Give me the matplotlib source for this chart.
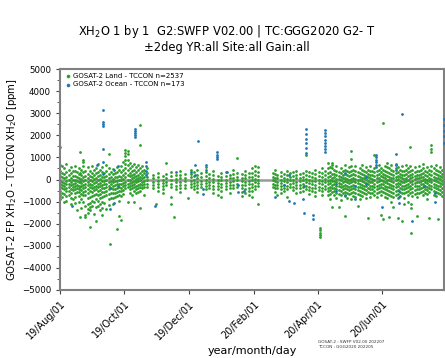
import numpy as np
import matplotlib
matplotlib.use('Agg')
import matplotlib.pyplot as plt
import matplotlib.dates as mdates
from matplotlib.ticker import MultipleLocator

# ---- data (days since 2019-08-01, ppm) ----
start = np.datetime64('2019-08-01')

land_day = [0, 2, 4, 6, 8, 10, 12, 14, 16, 18, 19, 20, 22, 24, 26, 28, 30, 32, 34, 36,
            38, 40, 42, 44, 46, 47, 48, 50, 52, 54, 56, 58, 60, 62, 64,
            66, 68, 70, 72, 74, 76, 78, 80, 82,
            88, 91, 93, 98, 100, 105, 108, 110, 114, 118, 121, 124, 127,
            130, 134, 138, 141, 145, 150, 153, 157, 161, 164, 168, 172, 175, 179, 182, 185, 188,
            202, 204, 206, 209, 212, 215, 218, 221, 224, 227, 230, 233, 236, 239, 242, 245, 246,
            248, 251, 254,
            256, 258, 260, 262, 264, 266, 268, 270, 272, 274, 276, 278, 280, 282, 284, 286, 288,
            290, 292, 294, 296, 298, 300, 302, 304, 306, 308,
            310, 312, 314, 316, 318, 320, 322, 324, 326, 328, 330, 332, 333, 334, 336, 338, 340,
            342, 344, 346, 348, 350, 352, 354, 356, 358, 360, 362]

land_val = [
    [1470, 650, 400, 150, -50, -200, -350, -500, -700, -900],
    [600, 300, 100, -100, -250, -400, -600, -800],
    [500, 250, 50, -150, -300, -450, -650, -1000],
    [700, 350, 120, -80, -220, -380, -520, -750, -950],
    [450, 200, 0, -180, -330, -500, -700],
    [550, 300, 80, -120, -260, -420, -600, -820, -1100],
    [400, 150, -30, -200, -350, -480, -900],
    [620, 380, 180, -20, -150, -300, -450, -620, -800, -1050],
    [350, 100, -60, -230, -400, -560, -1400],
    [500, 260, 60, -100, -280, -430, -580, -760, -1000],
    [1230, 300, -50, -350, -1710],
    [450, 220, 30, -140, -300, -470, -650, -900, -1300],
    [880, 790, 600, 320, 120, -60, -240, -380, -550, -720, -1000],
    [400, 180, -20, -190, -340, -500, -680, -1200, -1600, -1710],
    [550, 250, 70, -90, -260, -420, -600, -850, -1100, -1350, -1500],
    [380, 160, -40, -210, -360, -540, -780, -1050, -1230, -1400, -2160],
    [600, 300, 100, -80, -240, -400, -580, -760, -980, -1200],
    [450, 200, 10, -160, -320, -480, -700, -1000, -1550],
    [520, 280, 90, -100, -270, -450, -650, -900, -1250, -1860],
    [700, 350, 150, -30, -200, -350, -520, -700, -950, -1200],
    [420, 200, 20, -150, -300, -460, -640, -850, -1100, -1400],
    [560, 330, 100, -70, -230, -390, -560, -780, -1000, -1300, -1600],
    [300, 120, -60, -220, -380, -550, -760, -1050],
    [650, 400, 150, -40, -200, -360, -530, -720, -1330],
    [1150, 500, 250, 60, -110, -280, -450, -650, -900, -1150],
    [-2930],
    [350, 130, -50, -220, -400, -600, -850],
    [480, 240, 40, -130, -290, -450, -630, -830, -1100],
    [300, 100, -80, -250, -420, -600, -800],
    [580, 320, 120, -60, -220, -380, -550, -750, -2250],
    [420, 180, -10, -180, -340, -500, -700, -950, -1650],
    [600, 350, 130, -40, -210, -370, -540, -730, -1850],
    [800, 450, 200, 20, -150, -310, -480, -660],
    [1350, 1200, 1050, 900, 700, 500, 300, 100, -100, -250, -390],
    [1300, 1150, 900, 650, 450, 200, 0, -180, -350, -1000],
    [750, 500, 300, 150, 0, -150, -300, -450, -600],
    [600, 400, 200, 50, -100, -250, -400, -700],
    [700, 450, 250, 100, -50, -200, -350, -500, -1000],
    [550, 350, 180, 30, -120, -270, -420, -600],
    [650, 420, 220, 70, -80, -230, -380, -550],
    [2470, 1560, 500, 300, 120, -40, -190, -340, -500, -1300],
    [600, 380, 200, 50, -100, -250, -400],
    [450, 280, 100, -50, -200, -350, -700],
    [500, 300, 120, -40, -180, -320],
    [200, 50, -100, -250, -400],
    [-1100],
    [300, 100, -50, -200, -350, -500],
    [150, 0, -150, -300, -450, -600],
    [745, 250, 50, -100, -250],
    [350, 150, 0, -180, -350, -770, -1100],
    [-1700],
    [200, 30, -120, -280, -450],
    [400, 200, 50, -100, -250, -400, -550],
    [250, 80, -80, -230, -380],
    [-850],
    [450, 250, 100, -50, -200, -350],
    [350, 150, 0, -150, -300, -450],
    [430, 200, 50, -100, -250, -400, -550],
    [300, 100, -50, -200, -350],
    [550, 350, 150, 0, -150, -300, -450],
    [250, 80, -100, -250, -400],
    [400, 200, 40, -120, -280, -450, -600],
    [150, 0, -150, -300, -450, -700],
    [300, 120, -40, -200, -360, -520, -800],
    [350, 150, 0, -150, -300, -450],
    [200, 50, -100, -250, -400, -600],
    [450, 250, 80, -80, -240, -400],
    [990, 300, 120, -40, -200, -360],
    [250, 80, -80, -240, -400, -550, -750],
    [400, 200, 50, -100, -260, -420, -600],
    [300, 120, -50, -210, -370, -530, -700],
    [500, 300, 130, -30, -190, -350, -500, -800],
    [600, 400, 200, 40, -120, -280, -440],
    [550, 350, 150, 0, -150, -300, -1120],
    [300, 120, -40, -200, -360],
    [450, 250, 80, -80, -240, -400, -550],
    [200, 50, -100, -250, -400, -700],
    [350, 150, 0, -150, -300, -450, -600],
    [250, 80, -80, -230, -380, -520],
    [400, 200, 40, -120, -280, -440, -780],
    [300, 120, -40, -200, -350],
    [350, 160, 0, -160, -320, -480],
    [400, 200, 50, -100, -250, -400, -600],
    [250, 80, -80, -240, -400, -550],
    [300, 130, -30, -190, -350, -500],
    [1110, 400, 200, 40, -120, -280, -450],
    [350, 150, -10, -170, -330, -490, -650],
    [300, 120, -50, -210, -370, -530],
    [450, 250, 80, -80, -240, -400, -560, -750],
    [350, 170, 0, -160, -320, -480],
    [-2210, -2300, -2400, -2500, -2590],
    [500, 300, 120, -50, -210, -370, -530, -700],
    [400, 200, 30, -130, -290, -450],
    [730, 500, 300, 120, -50, -210, -370, -530, -700],
    [550, 350, 170, 0, -160, -320, -480, -650, -900],
    [730, 650, 500, 250, 80, -80, -240, -400, -560, -1260],
    [450, 270, 100, -60, -220, -380, -540, -720],
    [600, 380, 200, 30, -130, -290, -450, -620, -850],
    [350, 180, 10, -150, -310, -470, -640, -1260],
    [500, 300, 130, -40, -200, -360, -520, -700, -930],
    [400, 220, 50, -110, -270, -430, -600],
    [650, 450, 250, 80, -80, -240, -400, -560, -750, -1650],
    [380, 200, 30, -130, -290, -450, -620, -820],
    [550, 350, 160, -10, -170, -330, -490, -660],
    [1300, 910, 600, 400, 200, 30, -130, -290, -450, -620, -900],
    [450, 260, 80, -80, -240, -400, -560, -740],
    [600, 400, 210, 40, -120, -280, -440, -610, -800],
    [350, 170, 0, -160, -320, -480, -650, -1200],
    [500, 310, 130, -30, -190, -350, -510, -680, -900],
    [650, 450, 260, 90, -70, -230, -390, -560, -740],
    [400, 220, 50, -110, -270, -430, -600],
    [550, 360, 180, 10, -150, -310, -470, -640, -850],
    [450, 270, 100, -60, -220, -380, -550, -1760],
    [600, 400, 220, 50, -110, -270, -430, -600, -800],
    [380, 200, 30, -130, -290, -450, -620],
    [1100, 500, 320, 140, -20, -180, -340, -500, -680],
    [400, 220, 50, -110, -270, -430, -590, -780],
    [650, 450, 260, 90, -70, -230, -390, -560],
    [500, 320, 140, -20, -180, -340, -500, -680, -1600],
    [2540, 450, 270, 100, -60, -220, -380, -550, -1800],
    [600, 400, 220, 50, -110, -270, -430, -600, -800],
    [750, 550, 350, 170, 0, -160, -320, -480, -650, -850],
    [500, 310, 130, -30, -190, -350, -510, -700, -1700],
    [650, 450, 260, 90, -70, -230, -390, -560, -760, -1000],
    [400, 220, 50, -110, -270, -430, -600, -800, -1230],
    [700, 500, 300, 130, -30, -190, -350, -510, -680],
    [550, 360, 180, 10, -150, -310, -470, -640, -850, -1750],
    [450, 270, 100, -60, -220, -380, -550, -740],
    [600, 400, 220, 50, -110, -270, -430, -600, -1880],
    [380, 200, 30, -130, -290, -450, -620, -820, -1100],
    [650, 450, 260, 90, -70, -230, -390, -560],
    [500, 320, 140, -20, -180, -340, -500, -680, -1000],
    [1480, 600, 400, 220, 50, -110, -270, -430, -600],
    [-2400, -1300, -1100],
    [450, 270, 100, -60, -220, -380, -550, -750],
    [550, 360, 180, 10, -150, -310, -470, -650],
    [400, 220, 50, -110, -270, -430, -600, -800, -1650],
    [600, 400, 220, 50, -110, -270, -430, -600],
    [450, 270, 100, -60, -220, -380, -550],
    [700, 500, 300, 130, -30, -190, -350, -510, -700],
    [380, 200, 30, -130, -290, -450, -620],
    [550, 350, 170, 0, -160, -320, -480, -650, -900],
    [450, 260, 80, -80, -240, -400, -560, -1750],
    [1560, 1400, 1260, 600, 400, 210, 40, -120, -280, -440],
    [500, 310, 130, -30, -190, -350, -510, -680],
    [650, 450, 260, 90, -70, -230, -390, -560, -760],
    [400, 220, 50, -110, -270, -430, -600, -1800],
    [550, 360, 180, 10, -150, -310, -470, -640],
    [450, 270, 100, -60, -220, -380, -550, -750],
]

ocean_day = [11, 35, 41, 47, 51, 55, 71, 81, 90, 110, 124, 128, 131, 135, 138, 149, 158,
             169, 174, 204, 212, 217, 222, 230, 231, 233, 240, 251, 262, 270, 280, 290,
             299, 305, 318, 321, 324, 334, 345, 355, 364]
ocean_val = [
    [-1200], [656], [3145, 2615, 2510, 2420, 1367, 800, 250], [-385, -1335], [430, -1050],
    [600, -300], [2285, 2200, 2100, 2000, 1940], [800, 600, 400, 200], [-1200], [350],
    [350], [656, 200], [1760], [-430, -660], [680, 420], [1240, 1130, 1020, 910], [350],
    [-250, -550], [-500], [-800], [-250], [-980, 200], [-1050], [-900], [-1500, -300],
    [2270, 2050, 1850, 1650, 1450, 1185], [-1600, -1790],
    [2240, 2100, 1950, 1800, 1650, 1500, 1380, 1260], [-200, -500], [300, -700],
    [-300, -900], [100, -200], [1110, 1000, 880, 780, 680, 580], [-1260],
    [1140, 650, 430], [-500, -800, -1050], [2950], [-1880], [-300], [-600, -1000],
    [2720, 2450, 2200, 1950, 1640],
]

n_land = 2537
n_ocean = 173


def expand(days, vals):
    xs, ys = [], []
    for d, v in zip(days, vals):
        xs += [start + np.timedelta64(d, 'D')] * len(v)
        ys += v
    return np.array(xs), np.array(ys)


lx, ly = expand(land_day, land_val)
ox, oy = expand(ocean_day, ocean_val)

fig = plt.figure(figsize=(4.45, 3.58), dpi=100)
ax = fig.add_axes([0.135, 0.19, 0.863, 0.617])

ax.axhline(0, color='gray', lw=1.8, alpha=0.8, zorder=1)
ax.scatter(lx, ly, s=4, color='tab:green', lw=0, zorder=2,
           label='GOSAT-2 Land - TCCON n=%d' % n_land)
ax.scatter(ox, oy, s=4, color='tab:blue', lw=0, zorder=3,
           label='GOSAT-2 Ocean - TCCON n=%d' % n_ocean)

ax.set_ylim(-5000, 5000)
ax.set_xlim(np.datetime64('2019-08-01'), np.datetime64('2020-07-30'))
ax.yaxis.set_major_locator(MultipleLocator(1000))
ax.yaxis.set_minor_locator(MultipleLocator(500))
ax.xaxis.set_major_locator(mdates.MonthLocator(bymonth=[2, 4, 6, 8, 10, 12]))
ax.xaxis.set_major_formatter(mdates.DateFormatter('%y/%b/%d'))
ax.tick_params(axis='y', labelsize=6.2, length=3, width=0.8, color='#444444')
ax.tick_params(axis='y', which='minor', length=2, width=0.6, color='#444444')
ax.tick_params(axis='x', labelsize=7, length=3, width=0.8, color='#444444')
for lab in ax.get_xticklabels():
    lab.set_rotation(45)
    lab.set_ha('right')
    lab.set_rotation_mode('anchor')
for s in ax.spines.values():
    s.set_color('gray')
    s.set_linewidth(1.5)

ax.set_ylabel('GOSAT-2 FP XH$_2$O - TCCON XH$_2$O [ppm]', fontsize=7.3, labelpad=2)
ax.set_xlabel('year/month/day', fontsize=8)
ax.xaxis.set_label_coords(0.5, -0.255)

leg = ax.legend(loc='upper left', frameon=False, fontsize=5, markerscale=1.3,
                handletextpad=0.1, borderpad=0.3, labelspacing=0.3,
                handlelength=1.2, borderaxespad=0.3)

fig.suptitle('XH$_2$O 1 by 1  G2:SWFP V02.00 | TC:GGG2020 G2- T\n\u00b12deg YR:all Site:all Gain:all',
             x=0.51, y=0.935, fontsize=8.3, linespacing=1.05)

fig.text(0.715, 0.038, 'GOSAT-2 : SWFP V02.00 202207\nTCCON : GGG2020 202205',
         fontsize=3, color='#333333', va='center', linespacing=1.2)

fig.savefig('out.png', dpi=100)
